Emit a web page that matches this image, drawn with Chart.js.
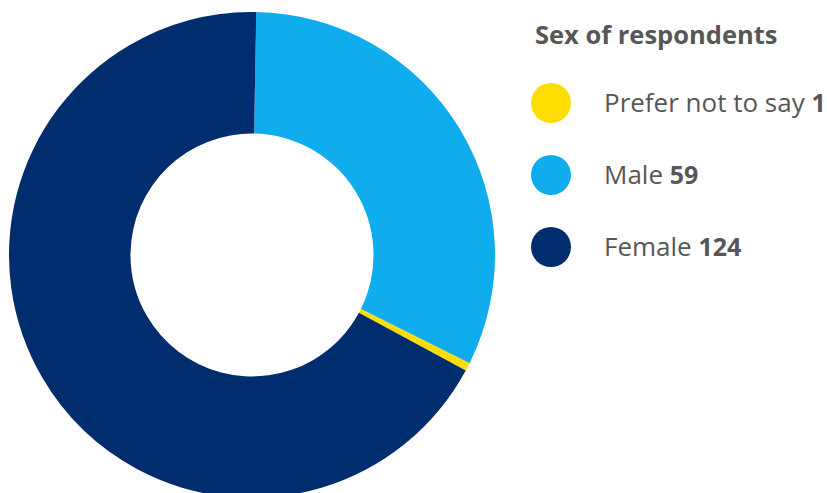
<!DOCTYPE html>
<html>
<head>
<meta charset="utf-8">
<script src="https://cdn.jsdelivr.net/npm/chart.js@4"></script>
<style>
  html, body { margin: 0; padding: 0; background: #fff; overflow: hidden; }
  body { width: 827px; height: 493px; position: relative; font-family: "Open Sans", "Noto Sans", sans-serif; color: #575757; }
  #donut { position: absolute; left: 9px; top: 12px; }
  #legend { position: absolute; left: 535px; top: 16px; }
  #legend h3 { margin: 0; font-size: 25.5px; font-weight: 700; line-height: 36px; }
  .item { position: absolute; left: 0; width: 300px; height: 40px; }
  .dot { position: absolute; left: -4px; top: 2px; width: 40px; height: 40px; border-radius: 50%; }
  .txt { position: absolute; left: 69px; top: 1px; line-height: 40px; font-size: 26px; white-space: nowrap; }
  .txt b { font-weight: 700; font-size: 25px; }
</style>
</head>
<body>
<canvas id="donut" width="486" height="486"></canvas>
<div id="legend">
  <h3>Sex of respondents</h3>
</div>
<script>
// 資料
const categories = ['Male', 'Prefer not to say', 'Female'];
const counts = [59, 1, 124];
const colors = ['#0fadee', '#ffdd00', '#002d6e'];
const legendOrder = [1, 0, 2];

// 圖例
const legend = document.getElementById('legend');
legendOrder.forEach((idx, i) => {
  const item = document.createElement('div');
  item.className = 'item';
  item.style.top = (65 + i * 72) + 'px';
  item.innerHTML = `<span class="dot" style="background:${colors[idx]}"></span>` +
    `<span class="txt">${categories[idx]} <b>${counts[idx]}</b></span>`;
  legend.appendChild(item);
});

const ctx = document.getElementById('donut').getContext('2d');
new Chart(ctx, {
  type: 'doughnut',
  data: {
    labels: categories,
    datasets: [{
      data: counts,
      backgroundColor: colors,
      borderWidth: 0
    }]
  },
  options: {
    responsive: false,
    animation: false,
    rotation: 1,
    cutout: '50%',
    plugins: { legend: { display: false }, tooltip: { enabled: false } }
  }
});
</script>
</body>
</html>
